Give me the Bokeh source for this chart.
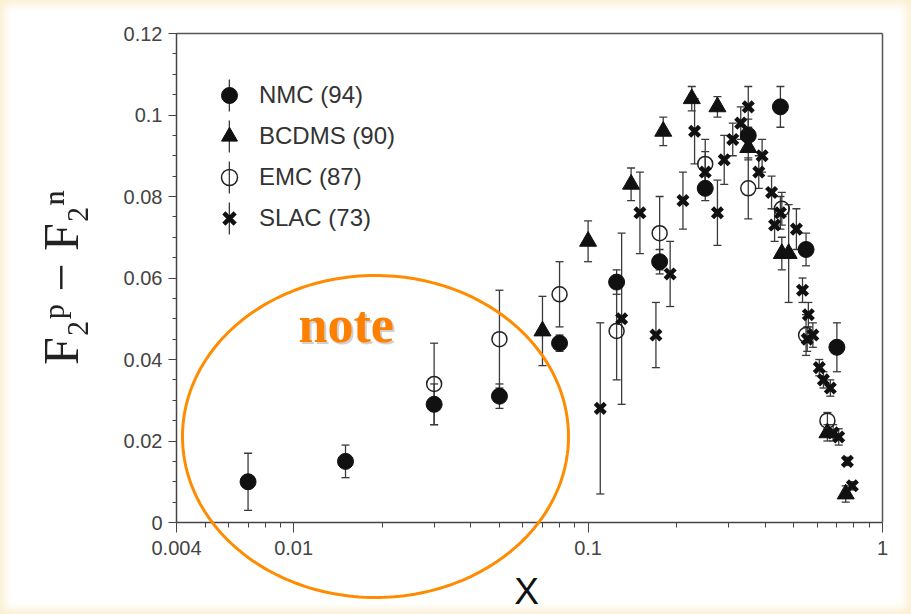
import numpy as np
from bokeh.plotting import figure
from bokeh.models import (Range1d, FixedTicker, Whisker, TeeHead, ColumnDataSource,
                          Legend, LegendItem, PolyAnnotation, Label, LinearAxis)
from bokeh.embed import file_html
from bokeh.resources import INLINE

# ---------------- data ----------------
nmc_x = [0.007, 0.015, 0.030, 0.050, 0.080, 0.125, 0.175, 0.25, 0.35, 0.45, 0.55, 0.70]
nmc_y = [0.010, 0.015, 0.029, 0.031, 0.044, 0.059, 0.064, 0.082, 0.095, 0.102, 0.067, 0.043]
nmc_err = [0.007, 0.004, 0.005, 0.003, 0.002, 0.003, 0.003, 0.003, 0.004, 0.005, 0.004, 0.006]

bcdms_x = [0.07, 0.10, 0.14, 0.18, 0.225, 0.275, 0.35, 0.455, 0.48, 0.65, 0.75]
bcdms_y = [0.047, 0.069, 0.083, 0.096, 0.104, 0.102, 0.092, 0.066, 0.066, 0.022, 0.007]
bcdms_err = [0.0085, 0.005, 0.004, 0.0035, 0.003, 0.0025, 0.003, 0.004, 0.012, 0.002, 0.002]

emc_x = [0.03, 0.05, 0.08, 0.125, 0.175, 0.25, 0.35, 0.455, 0.55, 0.65]
emc_y = [0.034, 0.045, 0.056, 0.047, 0.071, 0.088, 0.082, 0.077, 0.046, 0.025]
emc_err = [0.010, 0.012, 0.008, 0.012, 0.009, 0.006, 0.0075, 0.004, 0.005, 0.002]

slac_x = [0.11, 0.13, 0.15, 0.17, 0.19, 0.21, 0.23, 0.25, 0.275, 0.29, 0.31, 0.33, 0.35,
          0.38, 0.39, 0.42, 0.43, 0.45, 0.51, 0.535, 0.555, 0.56, 0.58, 0.61, 0.63, 0.665,
          0.68, 0.71, 0.76, 0.79]
slac_y = [0.028, 0.050, 0.076, 0.046, 0.061, 0.079, 0.096, 0.086, 0.076, 0.089, 0.094, 0.098,
          0.102, 0.086, 0.090, 0.081, 0.073, 0.076, 0.072, 0.057, 0.045, 0.051, 0.046, 0.038,
          0.035, 0.033, 0.022, 0.021, 0.015, 0.009]
slac_err = [0.021, 0.021, 0.010, 0.008, 0.008, 0.007, 0.008, 0.005, 0.008, 0.006, 0.004, 0.004,
            0.005, 0.004, 0.004, 0.004, 0.004, 0.004, 0.005, 0.003, 0.003, 0.003, 0.003, 0.002,
            0.002, 0.002, 0.002, 0.002, 0.001, 0.001]

series_labels = ["NMC (94)", "BCDMS (90)", "EMC (87)", "SLAC (73)"]

x_ticks = [0.004, 0.01, 0.1, 1]
x_tick_labels = ["0.004", "0.01", "0.1", "1"]
y_ticks = [0, 0.02, 0.04, 0.06, 0.08, 0.1, 0.12]
y_tick_labels = ["0", "0.02", "0.04", "0.06", "0.08", "0.1", "0.12"]

x_title = "X"
y_title = "F\u2082\u1d56 \u2212 F\u2082\u207f"
note_text = "note"

# axis extents of the drawn box
x_lo, x_hi = 0.004, 1
y_lo, y_hi = 0, 0.12

# ---------------- figure ----------------
# The data frame covers the whole canvas so that the note ellipse can cross the x axis;
# the axes are pinned to the box edges with fixed_location and limited by bounds.
W, H = 911, 614
box_l, box_r, box_t, box_b = 176, 882, 33, 522          # pixel box of the axes
dec = (box_r - box_l) / np.log10(x_hi / x_lo)           # pixels per decade
ppu = (box_b - box_t) / (y_hi - y_lo)                   # pixels per y unit
xr = Range1d(x_lo * 10 ** (-box_l / dec), x_hi * 10 ** ((W - box_r) / dec))
yr = Range1d(y_lo - (H - box_b) / ppu, y_hi + box_t / ppu)

def sx2x(sx):
    return x_lo * 10 ** ((sx - box_l) / dec)

def sy2y(sy):
    return y_lo + (box_b - sy) / ppu

p = figure(width=W, height=H, x_axis_type="log", x_range=xr, y_range=yr,
           output_backend="svg", toolbar_location=None,
           min_border=0, min_border_left=0, min_border_right=0,
           min_border_top=0, min_border_bottom=0)
p.border_fill_color = None
p.background_fill_color = None
p.styles = {"background-color": "#ffffff", "box-shadow": "inset 0 0 9px 5px #fbf0d3"}
p.grid.visible = False
p.outline_line_color = None

minor_x = [m * d for d in (0.001, 0.01, 0.1) for m in range(2, 10) if x_lo <= m * d <= x_hi]
minor_x = [v for v in minor_x if v not in x_ticks]
p.xaxis.ticker = FixedTicker(ticks=x_ticks, minor_ticks=minor_x)
p.xaxis.major_label_overrides = dict(zip(x_ticks, x_tick_labels))
p.xaxis.fixed_location = y_lo
p.xaxis.bounds = (x_lo, x_hi)
minor_y = [round(0.005 * i, 3) for i in range(0, 25)]
p.yaxis.ticker = FixedTicker(ticks=y_ticks, minor_ticks=minor_y)
p.yaxis.major_label_overrides = dict(zip(y_ticks, y_tick_labels))
p.yaxis.fixed_location = x_lo
p.yaxis.bounds = (y_lo, y_hi)

for ax in (p.xaxis[0], p.yaxis[0]):
    ax.axis_line_color = "#444444"
    ax.axis_line_width = 1.5
    ax.major_tick_line_color = "#444444"
    ax.minor_tick_line_color = "#444444"
    ax.major_tick_in = 0
    ax.minor_tick_in = 0
    ax.major_label_text_font = "Liberation Sans"
    ax.major_label_text_font_size = "20px"
    ax.major_label_text_color = "#444444"

p.xaxis.major_tick_out = 10
p.xaxis.minor_tick_out = 5
p.xaxis.major_label_standoff = 8
p.yaxis.major_tick_out = 8
p.yaxis.minor_tick_out = 4
p.yaxis.major_label_standoff = 6

# box lines on top and right (plain axes without ticks)
right_ax = LinearAxis(ticker=FixedTicker(ticks=[]), axis_line_color="#555555", axis_line_width=1.5,
                      major_tick_out=0, major_tick_in=0, minor_tick_out=0, minor_tick_in=0,
                      fixed_location=x_hi, bounds=(y_lo, y_hi))
top_ax = LinearAxis(ticker=FixedTicker(ticks=[]), axis_line_color="#555555", axis_line_width=1.5,
                    major_tick_out=0, major_tick_in=0, minor_tick_out=0, minor_tick_in=0,
                    fixed_location=y_hi, bounds=(x_lo, x_hi))
p.add_layout(right_ax, "right")
p.add_layout(top_ax, "above")

# axis titles
p.add_layout(Label(x=sx2x(526), y=sy2y(591), text=x_title, text_font="Liberation Sans",
                   text_font_size="37px", text_color="#111111", text_align="center",
                   text_baseline="alphabetic"))
p.add_layout(Label(x=sx2x(60), y=sy2y(277), text=y_title, text_font="Liberation Serif",
                   text_font_size="50px", text_color="#222222", text_align="center",
                   text_baseline="alphabetic", angle=np.pi / 2))

# ---------------- data + error bars ----------------
def make_src(xs, ys, errs):
    return ColumnDataSource(dict(x=xs, y=ys,
                                 upper=[a + b for a, b in zip(ys, errs)],
                                 lower=[a - b for a, b in zip(ys, errs)]))

bar_color = "#3a3a3a"
renderers = []
sources = []
specs = [
    (nmc_x, nmc_y, nmc_err, dict(marker="circle", size=16, fill_color="#111111", line_color="#111111")),
    (bcdms_x, bcdms_y, bcdms_err, dict(marker="triangle", size=17, fill_color="#111111", line_color="#111111")),
    (emc_x, emc_y, emc_err, dict(marker="circle", size=15, fill_color=None, line_color="#222222", line_width=1.5)),
    (slac_x, slac_y, slac_err, dict(marker="x", size=14, line_color="#111111", line_width=4.5)),
]
for xs, ys, errs, st in specs:
    src = make_src(xs, ys, errs)
    sources.append(src)
    w = Whisker(source=src, base="x", upper="upper", lower="lower", dimension="height",
                line_color=bar_color, line_width=1.3,
                upper_head=TeeHead(size=8, line_color=bar_color, line_width=1.3),
                lower_head=TeeHead(size=8, line_color=bar_color, line_width=1.3))
    p.add_layout(w)
    renderers.append(p.scatter(x="x", y="y", source=src, **st))

# legend-only error-bar glyph: a hidden bar renderer whose legend swatch is a thin vertical bar
bar_r = p.vbar(x="x", top="y", width=0.0001, source=sources[0], fill_color=bar_color,
               line_color=None, visible=False)

leg_rows = dict(glyph_height=40, spacing=1, padding=0, margin=0,
                border_line_color=None, background_fill_alpha=0)
leg_bars = Legend(items=[LegendItem(label=" ", renderers=[bar_r]) for _ in series_labels],
                  location=(228, H - 238), glyph_width=2, label_text_font_size="8px", **leg_rows)
leg = Legend(items=[LegendItem(label=l, renderers=[r]) for l, r in zip(series_labels, renderers)],
             location=(209, H - 238), glyph_width=40, label_standoff=10,
             label_text_font="Liberation Sans", label_text_font_size="24px",
             label_text_color="#333333", **leg_rows)
p.add_layout(leg_bars, "center")
p.add_layout(leg, "center")

# ---------------- annotation: ellipse + note ----------------
t = np.linspace(0, 2 * np.pi, 240)
ecx, ecy, erx, ery = 375, 436, 193, 161                 # ellipse centre / radii in pixels
ell = PolyAnnotation(xs=[sx2x(ecx + erx * np.cos(a)) for a in t],
                     ys=[sy2y(ecy + ery * np.sin(a)) for a in t],
                     fill_alpha=0, line_color="#ff8c00", line_alpha=1.0, line_width=3)
p.add_layout(ell)

p.add_layout(Label(x=sx2x(298), y=sy2y(324), text=note_text, text_font="Liberation Serif",
                   text_font_style="bold", text_font_size="52px", text_color="#777777",
                   text_alpha=0.35, x_offset=2, y_offset=-2, text_baseline="alphabetic"))
p.add_layout(Label(x=sx2x(298), y=sy2y(324), text=note_text, text_font="Liberation Serif",
                   text_font_style="bold", text_font_size="52px", text_color="#ff7f00",
                   text_baseline="alphabetic"))

open("out.html", "w").write(file_html(p, INLINE))
